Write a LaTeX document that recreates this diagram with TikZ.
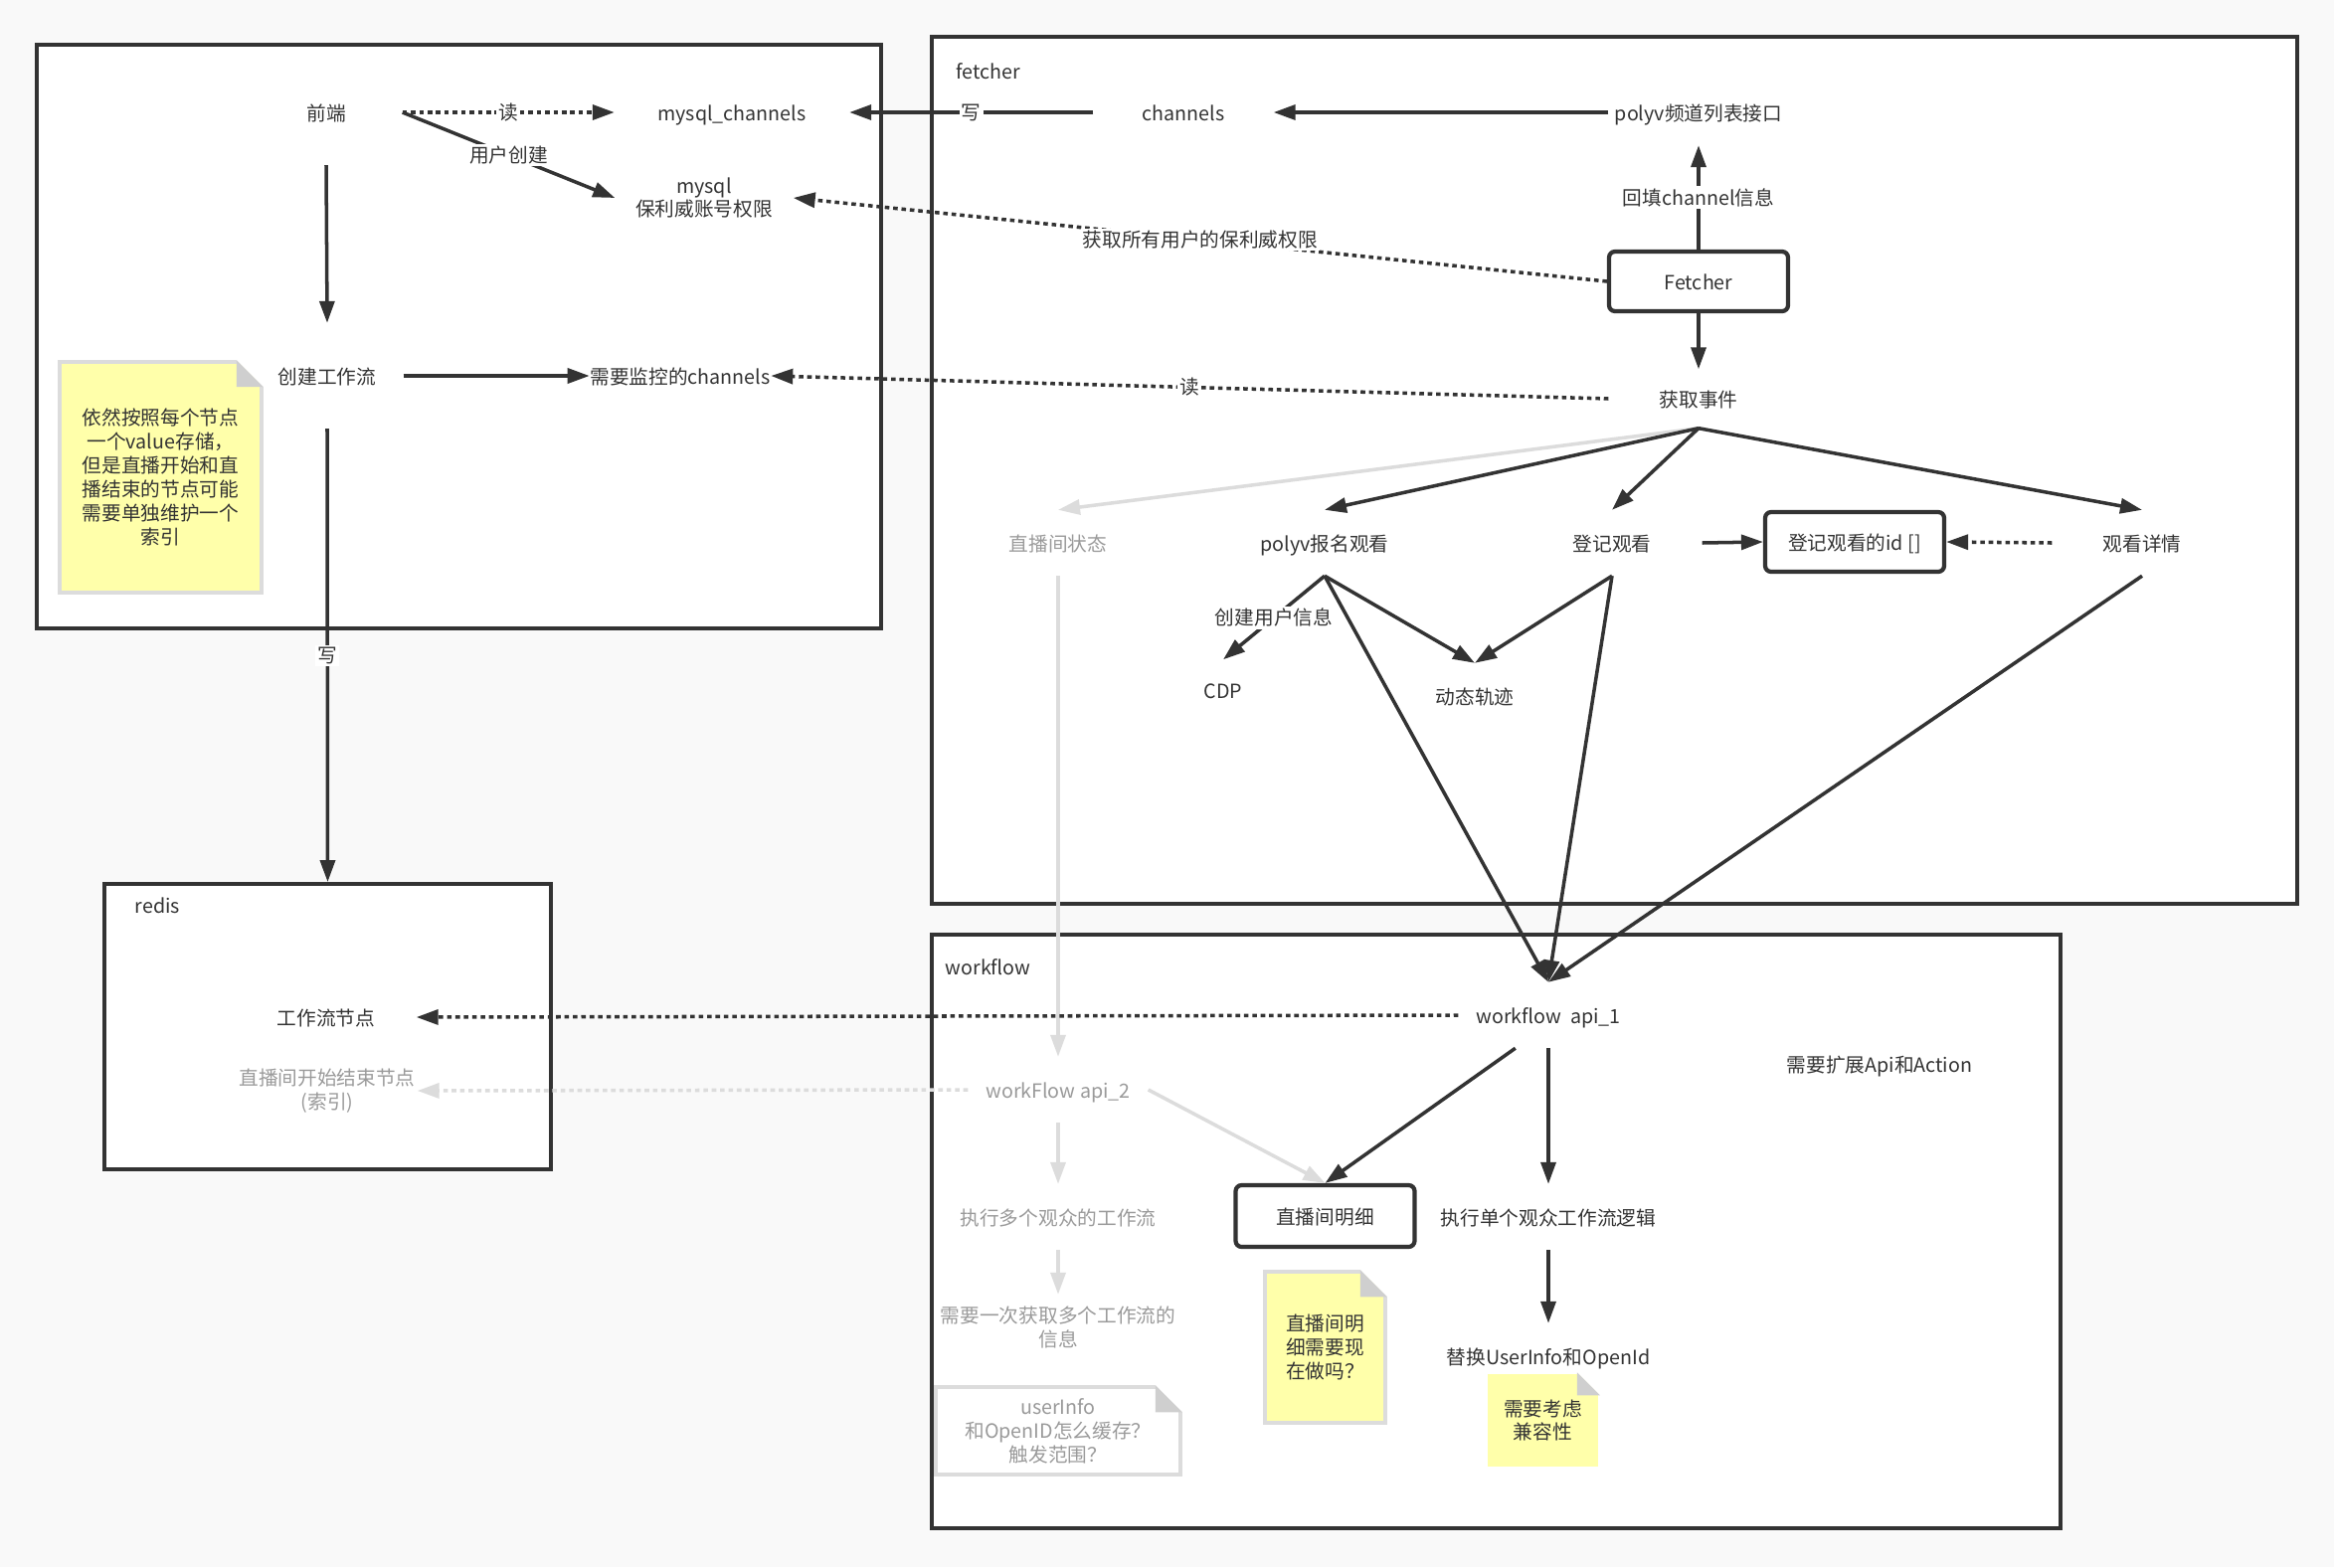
\documentclass[tikz,border=0pt]{standalone}
\usepackage{fontspec}
\setmainfont{Noto Sans CJK SC}
\usetikzlibrary{arrows.meta,calc}

\definecolor{ink}{HTML}{333333}
\definecolor{fade}{HTML}{9A9A9A}
\definecolor{fadeline}{HTML}{DCDCDC}
\definecolor{paper}{HTML}{F9F9F9}
\definecolor{notefill}{HTML}{FFFFAA}
\definecolor{noteline}{HTML}{DCDCDC}
\definecolor{foldgray}{HTML}{CFCFCF}

% folded corner of a note node
\newcommand{\notefold}[2]{%
  \fill[white] ($(#1.north east)+(-#2,0.03)$) -- ($(#1.north east)+(0.03,0.03)$) -- ($(#1.north east)+(0.03,-#2)$) -- ($(#1.north east)+(0,-#2)$) -- ($(#1.north east)+(-#2,0)$) -- cycle;
  \fill[foldgray] ($(#1.north east)+(-#2,0)$) -- ($(#1.north east)+(-#2,-#2)$) -- ($(#1.north east)+(0,-#2)$) -- cycle;}

\begin{document}
\begin{tikzpicture}[>={Triangle[length=2.2mm,width=1.5mm]},
  every node/.style={font=\fontsize{5.6}{6.8}\selectfont, text=ink},
  base/.style={minimum width=1.8cm, minimum height=0.65cm, inner sep=0pt, align=center},
  txt/.style={base, text height=5.5pt, text depth=0.4pt},
  gone/.style={txt, text=fade},
  box/.style={txt, draw=ink, line width=1.2pt, rounded corners=0.06cm, minimum height=0.6cm},
  frame/.style={draw=ink, fill=white, line width=1.1pt, inner sep=0pt},
  title/.style={anchor=west, inner sep=0pt},
  note/.style={fill=notefill, draw=noteline, line width=1pt, inner sep=0pt, align=center},
  tag/.style={fill=white, inner sep=0.6pt},
  wire/.style={->, draw=ink, line width=1pt},
  dots/.style={wire, dash pattern=on 1.3pt off 1.1pt},
  faint/.style={->, draw=fadeline, line width=1pt},
  faintdots/.style={faint, dash pattern=on 1.3pt off 1.1pt}]

    \fill[paper] (0,0) rectangle (23.47,-15.76);
    \useasboundingbox (0,0) rectangle (23.47,-15.76);

    % containers
    \node[frame, minimum width=8.49cm, minimum height=5.87cm] (web) at (4.615,-3.385) {};
    \node[frame, minimum width=13.73cm, minimum height=8.72cm] (fet) at (16.235,-4.73) {};
    \node[frame, minimum width=4.49cm, minimum height=2.87cm] (rds) at (3.295,-10.325) {};
    \node[frame, minimum width=11.35cm, minimum height=5.97cm] (wf) at (15.045,-12.385) {};
    \node[title] (tfet) at (9.61,-0.72) {fetcher};
    \node[title] (twf) at (9.50,-9.73) {workflow};
    \node[title] (trds) at (1.35,-9.11) {redis};

    % notes
    \node[note, minimum width=2.03cm, minimum height=2.32cm] (n1) at (1.615,-4.80) {依然按照每个节点\\一个value存储，\\但是直播开始和直\\播结束的节点可能\\需要单独维护一个\\索引};
    \notefold{n1}{0.27}
    \node[note, minimum width=1.21cm, minimum height=1.52cm] (n2) at (13.325,-13.55) {直播间明\\细需要现\\在做吗？};
    \notefold{n2}{0.27}
    \node[note, draw=none, minimum width=1.11cm, minimum height=0.93cm] (n3) at (15.515,-14.285) {需要考虑\\兼容性};
    \notefold{n3}{0.23}
    \node[note, fill=white, text=fade, minimum width=2.46cm, minimum height=0.88cm] (n4) at (10.64,-14.39) {userInfo\\和OpenID怎么缓存？\\触发范围？};
    \notefold{n4}{0.27}

    % web side
    \node[txt, minimum width=1.52cm, minimum height=1.05cm] (fe) at (3.28,-1.13) {前端};
    \node[txt, minimum width=2.35cm] (mc) at (7.36,-1.13) {mysql\_channels};
    \node[base, minimum width=1.78cm] (mp) at (7.08,-1.99) {mysql\\保利威账号权限};
    \node[txt, minimum width=1.52cm, minimum height=1.05cm] (cw) at (3.29,-3.78) {创建工作流};
    \node[txt] (mon) at (6.84,-3.78) {需要监控的channels};

    % fetcher
    \node[txt] (ch) at (11.90,-1.13) {channels};
    \node[txt] (pl) at (17.08,-1.13) {polyv频道列表接口};
    \node[box] (fx) at (17.08,-2.83) {Fetcher};
    \node[txt, minimum height=0.58cm] (ev) at (17.08,-4.01) {获取事件};
    \node[gone] (st) at (10.64,-5.46) {直播间状态};
    \node[txt] (pw) at (13.32,-5.46) {polyv报名观看};
    \node[txt] (dj) at (16.21,-5.46) {登记观看};
    \node[box] (id) at (18.65,-5.45) {登记观看的id []};
    \node[txt] (gx) at (21.54,-5.46) {观看详情};
    \node[txt, minimum height=0.6cm] (cdp) at (12.30,-6.94) {CDP};
    \node[txt] (dt) at (14.83,-7.00) {动态轨迹};

    % workflow and redis
    \node[txt] (a1) at (15.57,-10.21) {workflow~~api\_1};
    \node[txt] (ex) at (18.90,-10.70) {需要扩展Api和Action};
    \node[gone] (a2) at (10.64,-10.96) {workFlow api\_2};
    \node[gone] (mv) at (10.64,-12.24) {执行多个观众的工作流};
    \node[base, text=fade] (mi) at (10.64,-13.35) {需要一次获取多个工作流的\\信息};
    \node[box, minimum height=0.62cm] (zm) at (13.325,-12.23) {直播间明细};
    \node[txt] (sg) at (15.57,-12.24) {执行单个观众工作流逻辑};
    \node[txt] (tu) at (15.57,-13.64) {替换UserInfo和OpenId};
    \node[txt] (wn) at (3.28,-10.23) {工作流节点};
    \node[base, text=fade] (ix) at (3.29,-10.97) {直播间开始结束节点\\(索引)};

    % connectors
    \draw[dots] (fe.east) -- node[tag] {读} (mc.west);
    \draw[wire] (fe.east) -- node[tag] {用户创建} (mp.west);
    \draw[wire] (fe.south) -- (cw.north);
    \draw[wire] (cw.east) -- (mon.west);
    \draw[wire] (cw.south) -- node[tag] {写} (rds.north);

    \draw[wire] (ch.west) -- node[tag] {写} (mc.east);
    \draw[wire] (pl.west) -- (ch.east);
    \draw[wire] (fx.north) -- node[tag] {回填channel信息} (pl.south);
    \draw[dots] (fx.west) -- node[tag] {获取所有用户的保利威权限} (mp.east);
    \draw[wire] (fx.south) -- (ev.north);
    \draw[dots] (ev.west) -- node[tag] {读} (mon.east);
    \draw[faint] (ev.south) -- (st.north);
    \draw[wire] (ev.south) -- (pw.north);
    \draw[wire] (ev.south) -- (dj.north);
    \draw[wire] (ev.south) -- (gx.north);
    \draw[wire] (dj.east) -- (id.west);
    \draw[dots] (gx.west) -- (id.east);
    \draw[wire] (pw.south) -- node[tag] {创建用户信息} (cdp.north);
    \draw[wire] (pw.south) -- (dt.north);
    \draw[wire] (dj.south) -- (dt.north);
    \draw[faint] (st.south) -- (a2.north);
    \draw[wire] (pw.south) -- (a1.north);
    \draw[wire] (dj.south) -- (a1.north);
    \draw[wire] (gx.south) -- (a1.north);

    \draw[faintdots] (a2.west) -- (ix.east);
    \draw[faint] (a2.east) -- (zm.north);
    \draw[faint] (a2.south) -- (mv.north);
    \draw[faint] (mv.south) -- (mi.north);
    \draw[dots] (a1.west) -- (wn.east);
    \draw[wire] (a1.225) -- (zm.north);
    \draw[wire] (a1.south) -- (sg.north);
    \draw[wire] (sg.south) -- (tu.north);
\end{tikzpicture}
\end{document}
